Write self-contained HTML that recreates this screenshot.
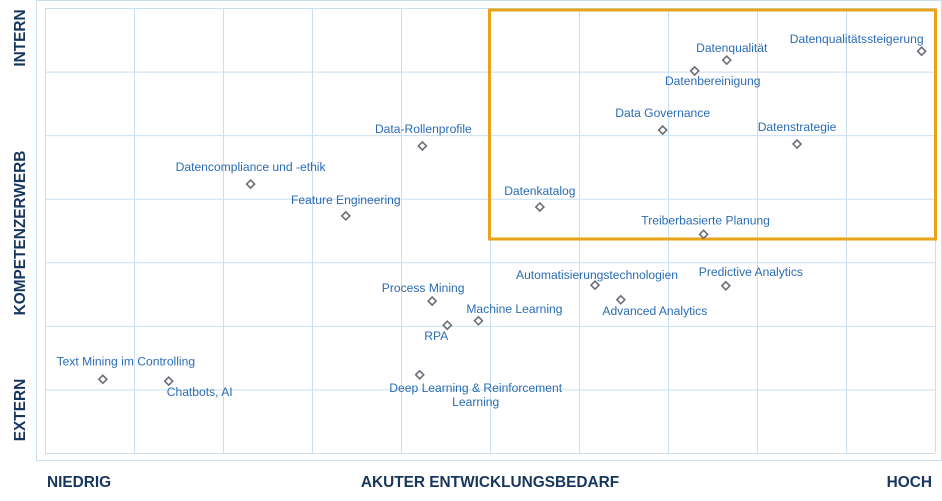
<!DOCTYPE html>
<html><head><meta charset="utf-8"><style>
body{margin:0;background:#fff;}
svg{display:block;font-family:"Liberation Sans",sans-serif;}
.lbl{font-size:12.1px;fill:#2a6cb5;}
.ax{font-size:15.4px;font-weight:bold;fill:#17365d;}
</style></head><body>
<svg id="chart" width="942" height="501" viewBox="0 0 942 501">
<rect x="36.5" y="0.5" width="905" height="460" fill="none" stroke="#c9dff0" stroke-width="1"/>
<g id="grid"></g>
<rect x="489.5" y="10" width="446" height="229" fill="none" stroke="#e8a317" stroke-width="3"/>
<g id="pts"></g>
<text class="ax" transform="translate(25,38) rotate(-90)" text-anchor="middle">INTERN</text>
<text class="ax" transform="translate(25,233) rotate(-90)" text-anchor="middle">KOMPETENZERWERB</text>
<text class="ax" transform="translate(25,410) rotate(-90)" text-anchor="middle">EXTERN</text>
<text class="ax" x="47" y="487">NIEDRIG</text>
<text class="ax" x="490" y="487" text-anchor="middle">AKUTER ENTWICKLUNGSBEDARF</text>
<text class="ax" x="932" y="487" text-anchor="end">HOCH</text>
</svg>
<script>
const names=["Datenqualitätssteigerung","Datenqualität","Datenbereinigung","Data Governance","Datenstrategie","Data-Rollenprofile","Datencompliance und -ethik","Feature Engineering","Datenkatalog","Treiberbasierte Planung","Automatisierungstechnologien","Advanced Analytics","Predictive Analytics","Process Mining","Machine Learning","RPA","Deep Learning & Reinforcement|Learning","Text Mining im Controlling","Chatbots, AI"];
const xVals=[9.85,7.66,7.30,6.94,8.45,4.24,2.31,3.38,5.56,7.40,6.18,6.47,7.65,4.35,4.87,4.52,4.21,0.65,1.39];
const yVals=[6.32,6.18,6.01,5.08,4.86,4.83,4.23,3.73,3.87,3.44,2.64,2.41,2.63,2.39,2.08,2.01,1.23,1.16,1.13];
const labelDx=[-65,5,18,0,0,1,0,0,0,2,2,34,25,-9,36,-11,56,23,31];
const labelDy=[-8,-8,14,-13,-13,-13,-13,-12,-12,-10,-6,15,-10,-9,-8,15,17,-14,15];
const X0=45,X1=935,Y0=453,Y1=8,XMAX=10,YMAX=7;
const sx=v=>X0+v/XMAX*(X1-X0), sy=v=>Y0-v/YMAX*(Y0-Y1);
const NS="http://www.w3.org/2000/svg";
const grid=document.getElementById('grid');
for(let i=0;i<=XMAX;i++){const l=document.createElementNS(NS,'line');


l.setAttribute('x1',sx(i)+.5);l.setAttribute('x2',sx(i)+.5);l.setAttribute('y1',Y1);l.setAttribute('y2',Y0);l.setAttribute('stroke','#c9dff0');grid.appendChild(l);}
for(let i=0;i<=YMAX;i++){const l=document.createElementNS(NS,'line');


l.setAttribute('y1',sy(i)+.5);l.setAttribute('y2',sy(i)+.5);l.setAttribute('x1',X0);l.setAttribute('x2',X1);l.setAttribute('stroke','#c9dff0');grid.appendChild(l);}
const pts=document.getElementById('pts');
names.forEach((n,i)=>{const x=sx(xVals[i]),y=sy(yVals[i]);
const m=document.createElementNS(NS,'path');


m.setAttribute('d',`M${x},${y-4}L${x+4},${y}L${x},${y+4}L${x-4},${y}Z`);
m.setAttribute('fill','#fff');m.setAttribute('stroke','#6b6e78');m.setAttribute('stroke-width','1.6');pts.appendChild(m);
const t=document.createElementNS(NS,'text');


t.setAttribute('class','lbl');t.setAttribute('text-anchor','middle');
const parts=n.split('|');
parts.forEach((p,j)=>{const ts=document.createElementNS(NS,'tspan');ts.setAttribute('x',x+labelDx[i]);ts.setAttribute('y',y+labelDy[i]+j*14);ts.textContent=p;t.appendChild(ts);});
pts.appendChild(t);});
</script>
</body></html>
